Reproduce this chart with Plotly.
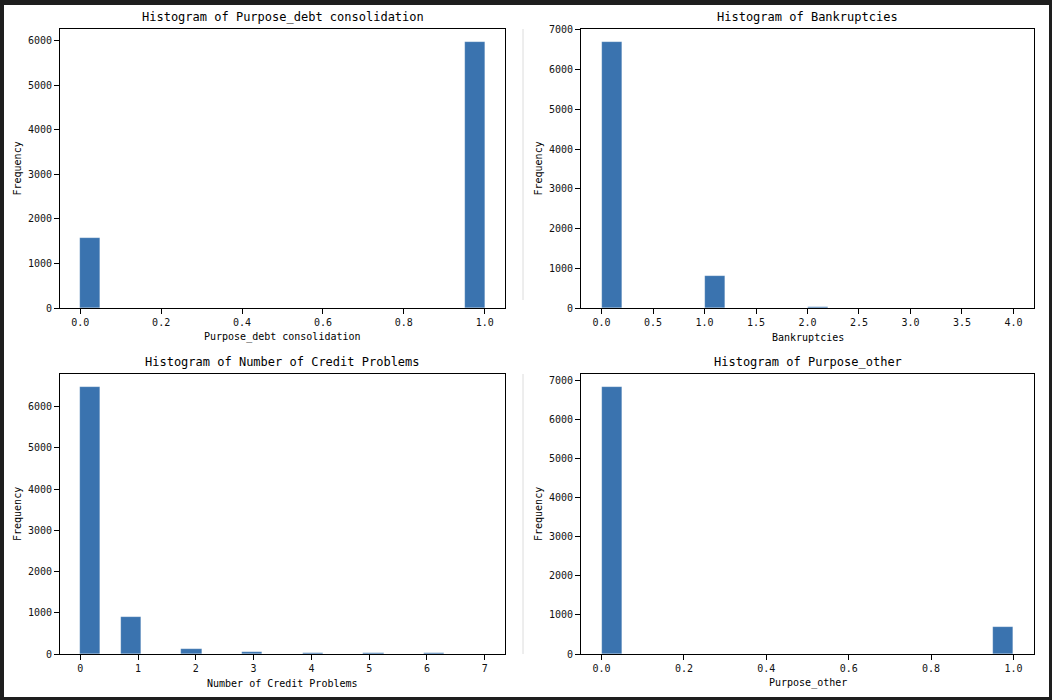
import numpy as np
import plotly.graph_objects as go

# ---- data (counts per histogram bin, 20 bins each) ----
debt_range = [0.0, 1.0]
debt_counts = [1560, 0, 0, 0, 0, 0, 0, 0, 0, 0, 0, 0, 0, 0, 0, 0, 0, 0, 0, 5960]

bankr_range = [0.0, 4.0]
bankr_counts = [6690, 0, 0, 0, 0, 800, 0, 0, 0, 0, 30, 0, 0, 0, 0, 3, 0, 0, 0, 1]

credit_range = [0.0, 7.0]
credit_counts = [6470, 0, 890, 0, 0, 110, 0, 0, 45, 0, 0, 25, 0, 0, 20, 0, 0, 20, 0, 3]

other_range = [0.0, 1.0]
other_counts = [6835, 0, 0, 0, 0, 0, 0, 0, 0, 0, 0, 0, 0, 0, 0, 0, 0, 0, 0, 685]

titles = ["Histogram of Purpose_debt consolidation", "Histogram of Bankruptcies",
          "Histogram of Number of Credit Problems", "Histogram of Purpose_other"]
xlabels = ["Purpose_debt consolidation", "Bankruptcies", "Number of Credit Problems", "Purpose_other"]
ylabel = "Frequency"

x_ticks_debt = [0.0, 0.2, 0.4, 0.6, 0.8, 1.0]
x_ticks_bankr = [0.0, 0.5, 1.0, 1.5, 2.0, 2.5, 3.0, 3.5, 4.0]
x_ticks_credit = [0, 1, 2, 3, 4, 5, 6, 7]
x_ticks_other = [0.0, 0.2, 0.4, 0.6, 0.8, 1.0]

W, H = 1052, 700
FONT = "DejaVu Sans Mono"
BAR = "#3a73af"

panels = [
    dict(rng=debt_range, counts=debt_counts, xt=x_ticks_debt, fmt=".1f", px=(60, 505), py=(29, 308)),
    dict(rng=bankr_range, counts=bankr_counts, xt=x_ticks_bankr, fmt=".1f", px=(581, 1034), py=(29, 308)),
    dict(rng=credit_range, counts=credit_counts, xt=x_ticks_credit, fmt="d", px=(60, 505), py=(374, 654)),
    dict(rng=other_range, counts=other_counts, xt=x_ticks_other, fmt=".1f", px=(581, 1034), py=(374, 654)),
]

fig = go.Figure()
annotations = []
layout = {}
for i, p in enumerate(panels):
    n = len(p["counts"])
    edges = np.linspace(p["rng"][0], p["rng"][1], n + 1)
    bw = edges[1] - edges[0]
    centers = (edges[:-1] + edges[1:]) / 2
    xa = "x" if i == 0 else f"x{i+1}"
    ya = "y" if i == 0 else f"y{i+1}"
    fig.add_trace(go.Bar(x=centers, y=p["counts"], width=bw, xaxis=xa, yaxis=ya,
                         marker=dict(color=BAR, line=dict(color="rgba(255,255,255,0.35)", width=0.5)),
                         showlegend=False, hoverinfo="x+y"))
    span = p["rng"][1] - p["rng"][0]
    ymax = max(p["counts"]) * 1.05
    x0, x1 = p["px"]
    yt, yb = p["py"]
    common = dict(showline=True, linecolor="black", linewidth=1, mirror=True,
                  ticks="outside", ticklen=5, tickwidth=1, tickcolor="black",
                  showgrid=False, zeroline=False, automargin=False,
                  tickfont=dict(family=FONT, size=10, color="#111"))
    layout["xaxis" if i == 0 else f"xaxis{i+1}"] = dict(
        common, domain=[x0 / W, x1 / W], anchor=ya,
        range=[p["rng"][0] - 0.05 * span, p["rng"][1] + 0.05 * span],
        tickmode="array", tickvals=p["xt"],
        ticktext=[format(v, p["fmt"]) if p["fmt"] != "d" else str(int(v)) for v in p["xt"]])
    layout["yaxis" if i == 0 else f"yaxis{i+1}"] = dict(
        common, domain=[1 - yb / H, 1 - yt / H], anchor=xa,
        range=[0, ymax], dtick=1000, tick0=0)
    cx = (x0 + x1) / 2 / W
    annotations.append(dict(text=titles[i], x=cx, y=1 - (yt - 12) / H, xref="paper", yref="paper",
                            showarrow=False, font=dict(family=FONT, size=12, color="black"),
                            xanchor="center", yanchor="middle"))
    annotations.append(dict(text=xlabels[i], x=cx, y=1 - (yb + 29) / H, xref="paper", yref="paper",
                            showarrow=False, font=dict(family=FONT, size=10, color="black"),
                            xanchor="center", yanchor="middle"))
    annotations.append(dict(text=ylabel, x=(x0 - 43) / W, y=1 - (yt + yb) / 2 / H, xref="paper", yref="paper",
                            showarrow=False, textangle=-90, font=dict(family=FONT, size=10, color="black"),
                            xanchor="center", yanchor="middle"))

shapes = [
    dict(type="rect", xref="paper", yref="paper", x0=4 / W, x1=1049 / W, y0=1 - 697 / H, y1=1 - 5 / H,
         fillcolor="white", line=dict(width=0), layer="below"),
    dict(type="line", xref="paper", yref="paper", x0=523 / W, x1=523 / W, y0=1 - 300 / H, y1=1 - 29 / H,
         line=dict(color="#dcdcdc", width=1), layer="below"),
    dict(type="line", xref="paper", yref="paper", x0=523 / W, x1=523 / W, y0=1 - 654 / H, y1=1 - 374 / H,
         line=dict(color="#dcdcdc", width=1), layer="below"),
]

fig.update_layout(width=W, height=H, margin=dict(l=0, r=0, t=0, b=0, pad=0, autoexpand=False),
                  paper_bgcolor="#1e1e1e", plot_bgcolor="white",
                  annotations=annotations, shapes=shapes, bargap=0, **layout)
fig.write_html("out.html", config=dict(displayModeBar=False),
               post_script="document.body.style.margin='0';document.body.style.padding='0';"
                           "document.body.style.background='#1e1e1e';document.body.style.overflow='hidden';")
